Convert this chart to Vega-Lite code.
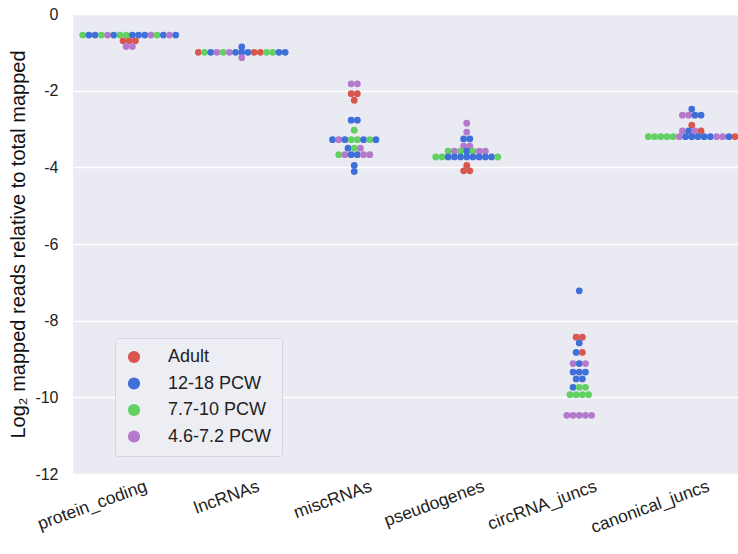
{
  "$schema": "https://vega.github.io/schema/vega-lite/v6.json",
  "width": 675,
  "height": 460,
  "autosize": {"type": "none"},
  "padding": {"left": 73, "top": 14, "right": 0, "bottom": 80},
  "background": "white",
  "config": {
    "view": {"fill": "#EAEAF2", "stroke": null},
    "font": "Liberation Sans"
  },
  "data": {"values": [
    {"type":"protein_coding","group":"7.7-10 PCW","val":-0.55},
    {"type":"protein_coding","group":"12-18 PCW","val":-0.55},
    {"type":"protein_coding","group":"12-18 PCW","val":-0.55},
    {"type":"protein_coding","group":"7.7-10 PCW","val":-0.55},
    {"type":"protein_coding","group":"4.6-7.2 PCW","val":-0.55},
    {"type":"protein_coding","group":"12-18 PCW","val":-0.55},
    {"type":"protein_coding","group":"7.7-10 PCW","val":-0.55},
    {"type":"protein_coding","group":"7.7-10 PCW","val":-0.55},
    {"type":"protein_coding","group":"12-18 PCW","val":-0.55},
    {"type":"protein_coding","group":"12-18 PCW","val":-0.55},
    {"type":"protein_coding","group":"12-18 PCW","val":-0.55},
    {"type":"protein_coding","group":"4.6-7.2 PCW","val":-0.55},
    {"type":"protein_coding","group":"7.7-10 PCW","val":-0.55},
    {"type":"protein_coding","group":"12-18 PCW","val":-0.55},
    {"type":"protein_coding","group":"4.6-7.2 PCW","val":-0.55},
    {"type":"protein_coding","group":"12-18 PCW","val":-0.55},
    {"type":"protein_coding","group":"Adult","val":-0.7},
    {"type":"protein_coding","group":"Adult","val":-0.7},
    {"type":"protein_coding","group":"Adult","val":-0.7},
    {"type":"protein_coding","group":"4.6-7.2 PCW","val":-0.85},
    {"type":"protein_coding","group":"4.6-7.2 PCW","val":-0.85},

    {"type":"lncRNAs","group":"12-18 PCW","val":-0.86},
    {"type":"lncRNAs","group":"Adult","val":-1.0},
    {"type":"lncRNAs","group":"7.7-10 PCW","val":-1.0},
    {"type":"lncRNAs","group":"12-18 PCW","val":-1.0},
    {"type":"lncRNAs","group":"4.6-7.2 PCW","val":-1.0},
    {"type":"lncRNAs","group":"7.7-10 PCW","val":-1.0},
    {"type":"lncRNAs","group":"4.6-7.2 PCW","val":-1.0},
    {"type":"lncRNAs","group":"12-18 PCW","val":-1.0},
    {"type":"lncRNAs","group":"12-18 PCW","val":-1.0},
    {"type":"lncRNAs","group":"12-18 PCW","val":-1.0},
    {"type":"lncRNAs","group":"Adult","val":-1.0},
    {"type":"lncRNAs","group":"Adult","val":-1.0},
    {"type":"lncRNAs","group":"7.7-10 PCW","val":-1.0},
    {"type":"lncRNAs","group":"7.7-10 PCW","val":-1.0},
    {"type":"lncRNAs","group":"12-18 PCW","val":-1.0},
    {"type":"lncRNAs","group":"12-18 PCW","val":-1.0},
    {"type":"lncRNAs","group":"4.6-7.2 PCW","val":-1.14},

    {"type":"miscRNAs","group":"4.6-7.2 PCW","val":-1.82},
    {"type":"miscRNAs","group":"4.6-7.2 PCW","val":-1.82},
    {"type":"miscRNAs","group":"Adult","val":-2.08},
    {"type":"miscRNAs","group":"Adult","val":-2.08},
    {"type":"miscRNAs","group":"Adult","val":-2.25},
    {"type":"miscRNAs","group":"12-18 PCW","val":-2.77},
    {"type":"miscRNAs","group":"12-18 PCW","val":-2.77},
    {"type":"miscRNAs","group":"7.7-10 PCW","val":-3.03},
    {"type":"miscRNAs","group":"12-18 PCW","val":-3.28},
    {"type":"miscRNAs","group":"4.6-7.2 PCW","val":-3.28},
    {"type":"miscRNAs","group":"12-18 PCW","val":-3.28},
    {"type":"miscRNAs","group":"7.7-10 PCW","val":-3.28},
    {"type":"miscRNAs","group":"7.7-10 PCW","val":-3.28},
    {"type":"miscRNAs","group":"12-18 PCW","val":-3.28},
    {"type":"miscRNAs","group":"7.7-10 PCW","val":-3.28},
    {"type":"miscRNAs","group":"12-18 PCW","val":-3.28},
    {"type":"miscRNAs","group":"12-18 PCW","val":-3.5},
    {"type":"miscRNAs","group":"7.7-10 PCW","val":-3.5},
    {"type":"miscRNAs","group":"4.6-7.2 PCW","val":-3.5},
    {"type":"miscRNAs","group":"7.7-10 PCW","val":-3.67},
    {"type":"miscRNAs","group":"4.6-7.2 PCW","val":-3.67},
    {"type":"miscRNAs","group":"12-18 PCW","val":-3.67},
    {"type":"miscRNAs","group":"12-18 PCW","val":-3.67},
    {"type":"miscRNAs","group":"4.6-7.2 PCW","val":-3.67},
    {"type":"miscRNAs","group":"4.6-7.2 PCW","val":-3.67},
    {"type":"miscRNAs","group":"12-18 PCW","val":-3.95},
    {"type":"miscRNAs","group":"12-18 PCW","val":-4.11},

    {"type":"pseudogenes","group":"4.6-7.2 PCW","val":-2.85},
    {"type":"pseudogenes","group":"4.6-7.2 PCW","val":-3.08},
    {"type":"pseudogenes","group":"12-18 PCW","val":-3.26},
    {"type":"pseudogenes","group":"12-18 PCW","val":-3.26},
    {"type":"pseudogenes","group":"4.6-7.2 PCW","val":-3.45},
    {"type":"pseudogenes","group":"4.6-7.2 PCW","val":-3.45},
    {"type":"pseudogenes","group":"7.7-10 PCW","val":-3.58},
    {"type":"pseudogenes","group":"4.6-7.2 PCW","val":-3.58},
    {"type":"pseudogenes","group":"7.7-10 PCW","val":-3.58},
    {"type":"pseudogenes","group":"12-18 PCW","val":-3.58},
    {"type":"pseudogenes","group":"7.7-10 PCW","val":-3.58},
    {"type":"pseudogenes","group":"4.6-7.2 PCW","val":-3.58},
    {"type":"pseudogenes","group":"4.6-7.2 PCW","val":-3.58},
    {"type":"pseudogenes","group":"7.7-10 PCW","val":-3.73},
    {"type":"pseudogenes","group":"7.7-10 PCW","val":-3.73},
    {"type":"pseudogenes","group":"12-18 PCW","val":-3.73},
    {"type":"pseudogenes","group":"12-18 PCW","val":-3.73},
    {"type":"pseudogenes","group":"12-18 PCW","val":-3.73},
    {"type":"pseudogenes","group":"12-18 PCW","val":-3.73},
    {"type":"pseudogenes","group":"12-18 PCW","val":-3.73},
    {"type":"pseudogenes","group":"12-18 PCW","val":-3.73},
    {"type":"pseudogenes","group":"12-18 PCW","val":-3.73},
    {"type":"pseudogenes","group":"12-18 PCW","val":-3.73},
    {"type":"pseudogenes","group":"7.7-10 PCW","val":-3.73},
    {"type":"pseudogenes","group":"Adult","val":-3.95},
    {"type":"pseudogenes","group":"Adult","val":-4.09},
    {"type":"pseudogenes","group":"Adult","val":-4.09},

    {"type":"circRNA_juncs","group":"12-18 PCW","val":-7.22},
    {"type":"circRNA_juncs","group":"Adult","val":-8.43},
    {"type":"circRNA_juncs","group":"Adult","val":-8.43},
    {"type":"circRNA_juncs","group":"12-18 PCW","val":-8.58},
    {"type":"circRNA_juncs","group":"12-18 PCW","val":-8.83},
    {"type":"circRNA_juncs","group":"Adult","val":-8.83},
    {"type":"circRNA_juncs","group":"4.6-7.2 PCW","val":-9.12},
    {"type":"circRNA_juncs","group":"12-18 PCW","val":-9.12},
    {"type":"circRNA_juncs","group":"4.6-7.2 PCW","val":-9.12},
    {"type":"circRNA_juncs","group":"12-18 PCW","val":-9.34},
    {"type":"circRNA_juncs","group":"12-18 PCW","val":-9.34},
    {"type":"circRNA_juncs","group":"12-18 PCW","val":-9.34},
    {"type":"circRNA_juncs","group":"12-18 PCW","val":-9.52},
    {"type":"circRNA_juncs","group":"12-18 PCW","val":-9.52},
    {"type":"circRNA_juncs","group":"12-18 PCW","val":-9.74},
    {"type":"circRNA_juncs","group":"7.7-10 PCW","val":-9.74},
    {"type":"circRNA_juncs","group":"7.7-10 PCW","val":-9.74},
    {"type":"circRNA_juncs","group":"7.7-10 PCW","val":-9.93},
    {"type":"circRNA_juncs","group":"7.7-10 PCW","val":-9.93},
    {"type":"circRNA_juncs","group":"7.7-10 PCW","val":-9.93},
    {"type":"circRNA_juncs","group":"7.7-10 PCW","val":-9.93},
    {"type":"circRNA_juncs","group":"4.6-7.2 PCW","val":-10.47},
    {"type":"circRNA_juncs","group":"4.6-7.2 PCW","val":-10.47},
    {"type":"circRNA_juncs","group":"4.6-7.2 PCW","val":-10.47},
    {"type":"circRNA_juncs","group":"4.6-7.2 PCW","val":-10.47},
    {"type":"circRNA_juncs","group":"4.6-7.2 PCW","val":-10.47},

    {"type":"canonical_juncs","group":"12-18 PCW","val":-2.48},
    {"type":"canonical_juncs","group":"4.6-7.2 PCW","val":-2.64},
    {"type":"canonical_juncs","group":"4.6-7.2 PCW","val":-2.64},
    {"type":"canonical_juncs","group":"12-18 PCW","val":-2.64},
    {"type":"canonical_juncs","group":"12-18 PCW","val":-2.64},
    {"type":"canonical_juncs","group":"Adult","val":-2.9},
    {"type":"canonical_juncs","group":"4.6-7.2 PCW","val":-3.05},
    {"type":"canonical_juncs","group":"12-18 PCW","val":-3.05},
    {"type":"canonical_juncs","group":"4.6-7.2 PCW","val":-3.05},
    {"type":"canonical_juncs","group":"Adult","val":-3.05},
    {"type":"canonical_juncs","group":"7.7-10 PCW","val":-3.2},
    {"type":"canonical_juncs","group":"7.7-10 PCW","val":-3.2},
    {"type":"canonical_juncs","group":"7.7-10 PCW","val":-3.2},
    {"type":"canonical_juncs","group":"7.7-10 PCW","val":-3.2},
    {"type":"canonical_juncs","group":"7.7-10 PCW","val":-3.2},
    {"type":"canonical_juncs","group":"4.6-7.2 PCW","val":-3.2},
    {"type":"canonical_juncs","group":"12-18 PCW","val":-3.2},
    {"type":"canonical_juncs","group":"12-18 PCW","val":-3.2},
    {"type":"canonical_juncs","group":"12-18 PCW","val":-3.2},
    {"type":"canonical_juncs","group":"12-18 PCW","val":-3.2},
    {"type":"canonical_juncs","group":"12-18 PCW","val":-3.2},
    {"type":"canonical_juncs","group":"4.6-7.2 PCW","val":-3.2},
    {"type":"canonical_juncs","group":"4.6-7.2 PCW","val":-3.2},
    {"type":"canonical_juncs","group":"12-18 PCW","val":-3.2},
    {"type":"canonical_juncs","group":"Adult","val":-3.2}
  ]},
  "transform": [
    {"window": [{"op": "row_number", "as": "k"}, {"op": "count", "as": "n"}], "groupby": ["type", "val"], "frame": [null, null]},
    {"calculate": "datum.k - (datum.n + 1) / 2", "as": "slot"}
  ],
  "mark": {"type": "circle", "size": 46, "opacity": 1},
  "encoding": {
    "x": {
      "field": "type", "type": "nominal",
      "sort": ["protein_coding", "lncRNAs", "miscRNAs", "pseudogenes", "circRNA_juncs", "canonical_juncs"],
      "scale": {"paddingInner": 0, "paddingOuter": 0},
      "axis": {
        "title": null, "domain": false, "ticks": false, "grid": false,
        "labelAngle": -20, "labelAlign": "right", "labelBaseline": "top",
        "labelFontSize": 17.5, "labelColor": "#222222", "labelPadding": 3, "labelOffset": 14
      }
    },
    "xOffset": {"field": "slot", "type": "quantitative", "scale": {"domain": [-9.07, 9.07]}},
    "y": {
      "field": "val", "type": "quantitative",
      "scale": {"domain": [-12, 0], "nice": false, "zero": false},
      "axis": {
        "title": "Log₂ mapped reads relative to total mapped",
        "titleFontSize": 20, "titleFontWeight": "normal", "titleColor": "#111111", "titlePadding": 6,
        "values": [-12, -10, -8, -6, -4, -2, 0],
        "labelExpr": "toString(datum.value)",
        "domain": false, "ticks": false, "grid": true, "gridColor": "white", "gridWidth": 1.6,
        "labelFontSize": 16, "labelColor": "#222222", "labelPadding": 15
      }
    },
    "color": {
      "field": "group", "type": "nominal",
      "scale": {
        "domain": ["Adult", "12-18 PCW", "7.7-10 PCW", "4.6-7.2 PCW"],
        "range": ["#D9564F", "#3F6FD8", "#62D062", "#B579CC"]
      },
      "legend": {
        "title": null, "orient": "none", "legendX": 42, "legendY": 324,
        "symbolType": "circle", "symbolSize": 150, "symbolOpacity": 1, "symbolStrokeWidth": 0,
        "labelFontSize": 18, "labelColor": "#222222", "labelOffset": 25,
        "rowPadding": 8.5, "padding": 10,
        "fillColor": "#EDEDF4", "strokeColor": "#D6D6DE", "cornerRadius": 2
      }
    }
  }
}
